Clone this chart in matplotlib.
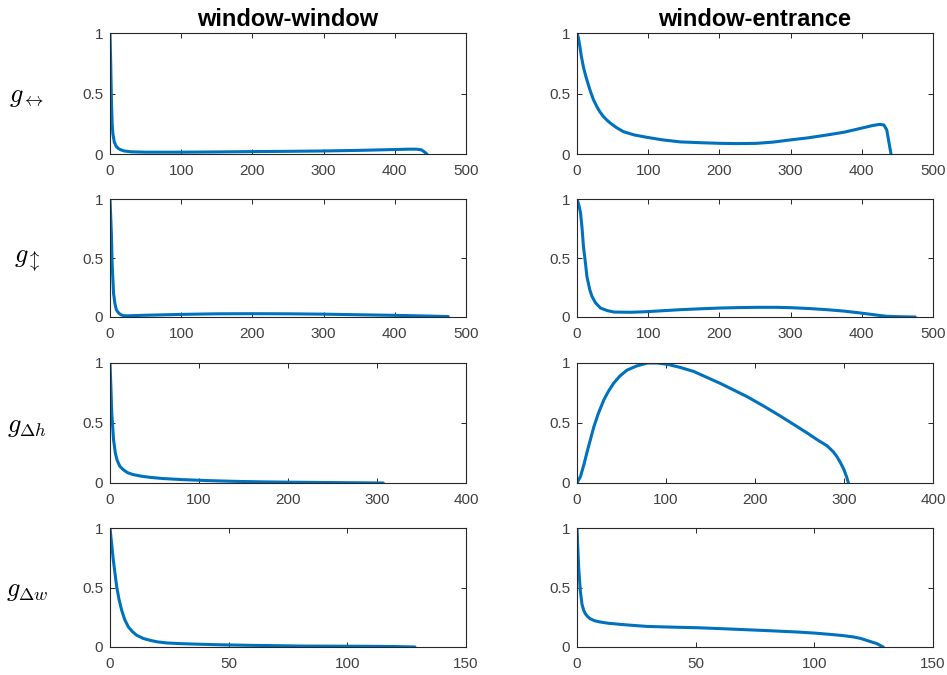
import matplotlib
matplotlib.use("Agg")
import matplotlib.pyplot as plt
from matplotlib import transforms

plt.rcParams["font.family"] = ["Liberation Sans", "DejaVu Sans"]
plt.rcParams["mathtext.fontset"] = "cm"

column_titles = ["window-window", "window-entrance"]
row_labels = [r"$g_{\leftrightarrow}$", r"$g_{\updownarrow}$",
              r"$g_{\Delta h}$", r"$g_{\Delta w}$"]

# g_<-> (horizontal)
ww_h_x = [0, 1, 2, 3, 4, 6, 9, 12, 15, 20, 30, 50, 100, 150, 200, 250, 300, 350, 400, 420, 430, 437, 441, 445]
ww_h_y = [1.0, 0.75, 0.45, 0.25, 0.17, 0.10, 0.06, 0.045, 0.035, 0.025, 0.018, 0.015, 0.015, 0.017, 0.02, 0.022,
          0.025, 0.03, 0.037, 0.04, 0.04, 0.035, 0.02, 0.0]
we_h_x = [0, 2, 4, 6, 9, 12, 15, 19, 23, 28, 32, 37, 42, 48, 55, 65, 80, 98, 120, 145, 175, 201, 225, 252,
          275, 299, 325, 351, 375, 397, 415, 425, 431, 435, 438, 441]
we_h_y = [1.0, 0.96, 0.89, 0.81, 0.72, 0.65, 0.59, 0.515, 0.45, 0.39, 0.35, 0.31, 0.28, 0.25, 0.22, 0.185,
          0.158, 0.138, 0.117, 0.10, 0.093, 0.088, 0.086, 0.088, 0.098, 0.116, 0.134, 0.157, 0.18, 0.21,
          0.235, 0.245, 0.24, 0.2, 0.1, 0.0]

# g_updown (vertical)
ww_v_x = [0, 2, 3, 5, 7, 9, 12, 15, 19, 25, 50, 100, 150, 200, 250, 300, 350, 400, 440, 475]
ww_v_y = [1.0, 0.7, 0.45, 0.2, 0.11, 0.06, 0.035, 0.02, 0.011, 0.01, 0.015, 0.022, 0.027, 0.028, 0.027,
          0.024, 0.019, 0.014, 0.009, 0.004]
we_v_x = [0, 3, 5, 7, 9, 12, 14, 18, 21, 26, 33, 42, 52, 75, 98, 120, 145, 175, 201, 230, 253, 280, 300,
          325, 351, 375, 398, 420, 435, 455, 475]
we_v_y = [1.0, 0.94, 0.88, 0.76, 0.6, 0.45, 0.34, 0.23, 0.175, 0.12, 0.076, 0.055, 0.042, 0.04, 0.045,
          0.053, 0.062, 0.07, 0.076, 0.08, 0.082, 0.082, 0.079, 0.072, 0.062, 0.05, 0.034, 0.017, 0.006,
          0.002, 0.0]

# g_delta_h (height difference)
ww_dh_x = [0, 1, 2, 4, 6, 8, 11, 15, 20, 26, 35, 45, 60, 82, 110, 139, 175, 213, 260, 307]
ww_dh_y = [1.0, 0.8, 0.58, 0.36, 0.25, 0.19, 0.14, 0.11, 0.085, 0.07, 0.057, 0.047, 0.037, 0.028, 0.02,
           0.014, 0.009, 0.006, 0.003, 0.0]
we_dh_x = [0, 4, 8, 11, 15, 19, 24, 30, 35, 41, 48, 56, 67, 79, 90, 101, 115, 131, 146, 161, 176, 191,
           210, 228, 243, 258, 270, 281, 288, 292, 296, 300, 303, 305]
we_dh_y = [0.0, 0.056, 0.16, 0.25, 0.36, 0.47, 0.58, 0.69, 0.76, 0.83, 0.89, 0.94, 0.975, 1.0, 1.0, 0.99,
           0.965, 0.93, 0.88, 0.83, 0.775, 0.72, 0.64, 0.56, 0.49, 0.42, 0.36, 0.31, 0.26, 0.22, 0.17, 0.11,
           0.05, 0.0]

# g_delta_w (width difference)
ww_dw_x = [0, 1.4, 2.8, 3.8, 4.9, 6.2, 7.7, 9.4, 11.2, 14, 16.9, 20, 24, 30, 38, 48, 59, 70, 80, 95, 108,
           120, 128.5]
ww_dw_y = [1.0, 0.73, 0.51, 0.40, 0.31, 0.23, 0.17, 0.13, 0.099, 0.072, 0.056, 0.043, 0.034, 0.028, 0.023,
           0.018, 0.014, 0.011, 0.008, 0.007, 0.006, 0.004, 0.0]
we_dw_x = [0, 0.7, 1.4, 2.1, 2.8, 3.5, 4.5, 5.6, 7.5, 9.8, 13, 18.3, 24, 29.5, 40, 50.6, 61, 71.6, 82,
           92.7, 100, 106.7, 112, 116.6, 119.5, 122, 124.5, 126.4, 129]
we_dw_y = [1.0, 0.67, 0.47, 0.36, 0.31, 0.28, 0.255, 0.237, 0.22, 0.21, 0.2, 0.19, 0.181, 0.173, 0.167,
           0.162, 0.154, 0.145, 0.136, 0.126, 0.117, 0.106, 0.096, 0.084, 0.072, 0.056, 0.04, 0.028, 0.0]

panels = [
    [(ww_h_x, ww_h_y), (we_h_x, we_h_y)],
    [(ww_v_x, ww_v_y), (we_v_x, we_v_y)],
    [(ww_dh_x, ww_dh_y), (we_dh_x, we_dh_y)],
    [(ww_dw_x, ww_dw_y), (we_dw_x, we_dw_y)],
]
x_limits = [500, 500, 400, 150]
x_steps = [100, 100, 100, 50]
y_ticks = [0, 0.5, 1]

W, H = 947, 675
fig = plt.figure(figsize=(W / 100, H / 100), dpi=100)

col_left_px = [110, 577]
axes_width_px = 356
row_span_px = [(33, 154), (199, 317), (363, 483), (528, 647)]

line_color = "#0072BD"
axis_color = "#262626"
label_color = "#404040"

for r in range(4):
    top, bot = row_span_px[r]
    for c in range(2):
        ax = fig.add_axes([col_left_px[c] / W, 1 - bot / H, axes_width_px / W, (bot - top) / H])
        xs, ys = panels[r][c]
        ax.plot(xs, ys, color=line_color, lw=2.2, solid_capstyle="round", solid_joinstyle="round")
        ax.set_xlim(0, x_limits[r])
        ax.set_ylim(0, 1)
        ax.set_xticks(list(range(0, x_limits[r] + 1, x_steps[r])))
        ax.set_yticks(y_ticks)
        ax.set_yticklabels(["0", "0.5", "1"])
        ax.tick_params(direction="in", length=3.5, width=0.7, top=True, right=True,
                       labelsize=11, color=axis_color, labelcolor=label_color)
        ax.tick_params(axis="x", pad=7)
        ax.tick_params(axis="y", pad=5)
        for s in ax.spines.values():
            s.set_color(axis_color)
            s.set_linewidth(0.8)
        if r == 0:
            ax.set_title(column_titles[c], fontsize=17, fontweight="bold", pad=5, color="black")
        if c == 0:
            trans = transforms.blended_transform_factory(fig.transFigure, ax.transAxes)
            fig.text(27 / W, 0.47, row_labels[r], transform=trans, fontsize=19,
                     ha="center", va="center", color="black")

fig.savefig("out.png", dpi=100)
